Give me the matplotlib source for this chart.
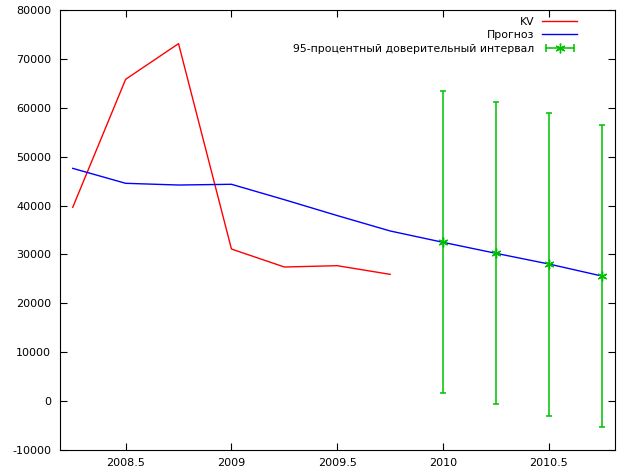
import matplotlib
matplotlib.use("Agg")
import matplotlib.pyplot as plt
from matplotlib.lines import Line2D
from matplotlib.legend_handler import HandlerLine2D, HandlerTuple

# Data
t_kv = [2008.25, 2008.5, 2008.75, 2009.0, 2009.25, 2009.5, 2009.75]
kv = [39640, 65820, 73120, 31110, 27430, 27700, 25930]

t_fc = [2008.25, 2008.5, 2008.75, 2009.0, 2009.25, 2009.5, 2009.75,
        2010.0, 2010.25, 2010.5, 2010.75]
fc = [47610, 44550, 44200, 44350, 41200, 37950, 34800,
      32480, 30230, 28045, 25590]

t_ci = [2010.0, 2010.25, 2010.5, 2010.75]
ci_mid = [32480, 30230, 28045, 25590]
ci_lo = [1600, -660, -3045, -5300]
ci_hi = [63430, 61110, 58860, 56410]

xticks = [2008.5, 2009.0, 2009.5, 2010.0, 2010.5]
xticklabels = ["2008.5", "2009", "2009.5", "2010", "2010.5"]
yticks = list(range(-10000, 80001, 10000))
yticklabels = [str(v) for v in yticks]

labels = ["KV", "Прогноз", "95-процентный доверительный интервал"]

RED = "#ff0000"
BLUE = "#0000ff"
GREEN = "#00c000"

plt.rcParams['font.family'] = ['DejaVu Sans']
fig = plt.figure(figsize=(6.25, 4.76), dpi=100)
ax = fig.add_axes([59.5 / 625, 26 / 476, 555.5 / 625, 440 / 476])

ax.plot(t_kv, kv, color=RED, lw=1.0)
ax.plot(t_fc, fc, color=BLUE, lw=1.0)
err_lo = [m - l for m, l in zip(ci_mid, ci_lo)]
err_hi = [h - m for m, h in zip(ci_mid, ci_hi)]
ax.errorbar(t_ci, ci_mid, yerr=[err_lo, err_hi], fmt='none', ecolor=GREEN,
            elinewidth=1.1, capsize=2.5, capthick=1.1)
ax.plot(t_ci, ci_mid, linestyle='none', marker=(6, 2, 0), markersize=7,
        color=GREEN, markeredgewidth=1.0)

ax.set_xlim(2008.1875, 2010.8125)
ax.set_ylim(-10000, 80000)
ax.set_xticks(xticks)
ax.set_xticklabels(xticklabels)
ax.set_yticks(yticks)
ax.set_yticklabels(yticklabels)
ax.tick_params(direction='in', length=5, width=0.8, top=True, right=True,
               labelsize=8, pad=6, colors='black')
for s in ax.spines.values():
    s.set_linewidth(0.8)

# legend
h_kv = Line2D([], [], color=RED, lw=1.0)
h_fc = Line2D([], [], color=BLUE, lw=1.0)
h_caps = Line2D([], [], color=GREEN, lw=1.1, marker='|', markersize=6,
                markeredgewidth=1.1)
h_star = Line2D([], [], color=GREEN, linestyle='none', marker=(6, 2, 0),
                markersize=7, markeredgewidth=1.0)
leg = ax.legend([h_kv, h_fc, (h_caps, h_star)], labels,
                loc='upper right', bbox_to_anchor=(577 / 625, 1 - 17 / 476),
                bbox_transform=fig.transFigure,
                frameon=False, markerfirst=False, fontsize=7.8,
                handlelength=3.2, handletextpad=0.75, labelspacing=0.3,
                borderaxespad=0, borderpad=0,
                handler_map={h_caps: HandlerLine2D(numpoints=2),
                             tuple: HandlerTuple(ndivide=1)})
for t in leg.get_texts():
    t.set_ha('right')

fig.savefig("out.png", dpi=100)
